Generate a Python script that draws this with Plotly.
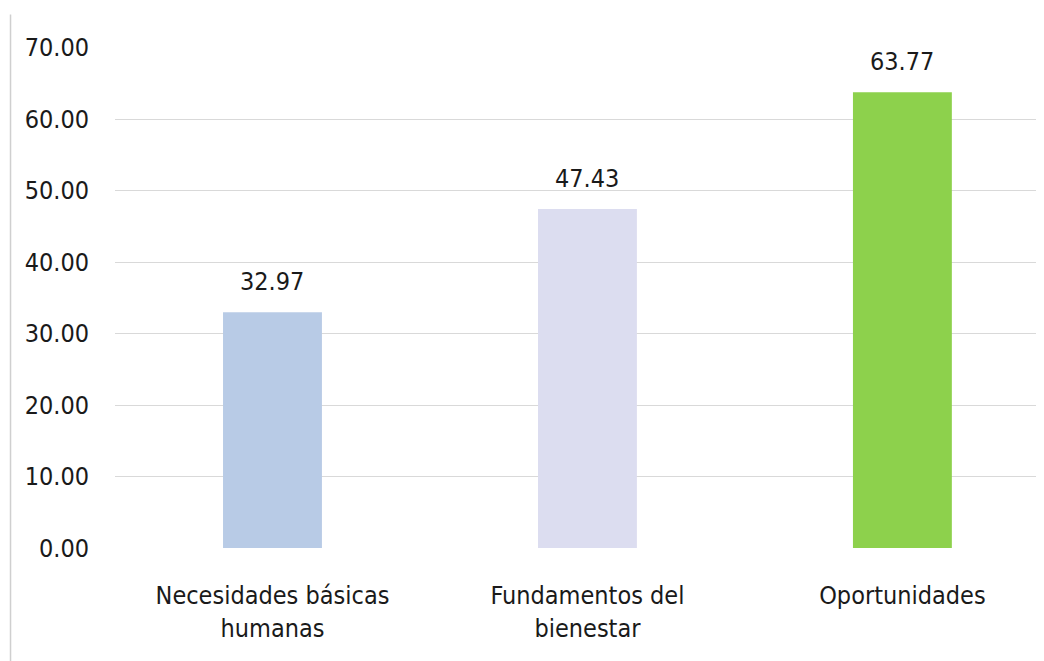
import plotly.graph_objects as go

categories = ["Necesidades básicas<br>humanas", "Fundamentos del<br>bienestar", "Oportunidades"]
values = [32.97, 47.43, 63.77]
value_labels = ["32.97", "47.43", "63.77"]
bar_colors = ["#B8CBE6", "#DCDDF0", "#8DD14C"]
y_ticks = [0, 10, 20, 30, 40, 50, 60, 70]
y_tick_labels = ["0.00", "10.00", "20.00", "30.00", "40.00", "50.00", "60.00", "70.00"]

FONT = "Liberation Sans Narrow, DejaVu Sans Condensed, Arial Narrow, sans-serif"

fig = go.Figure()
fig.add_trace(go.Bar(
    x=categories,
    y=values,
    width=0.314,
    marker=dict(color=bar_colors, line=dict(width=0)),
    hoverinfo="skip",
))

for c, v, t in zip(categories, values, value_labels):
    fig.add_annotation(x=c, y=v, text=t, showarrow=False, yanchor="bottom",
                       yshift=14, font=dict(family=FONT, size=25, color="#1a1a1a"))

fig.update_layout(
    width=1044, height=661,
    margin=dict(l=107, r=0, t=39, b=121, autoexpand=False),
    paper_bgcolor="white", plot_bgcolor="white",
    showlegend=False,
    font=dict(family=FONT, size=25, color="#1a1a1a"),
    xaxis=dict(range=[-0.5, 2.475], showgrid=False, zeroline=False, showline=False,
               ticks="", ticklabelstandoff=30, automargin=False,
               tickfont=dict(family=FONT, size=25, color="#1a1a1a")),
    yaxis=dict(range=[0, 70.1], tickvals=y_ticks, ticktext=y_tick_labels,
               showgrid=True, gridcolor="#D9D9D9", gridwidth=1, automargin=False,
               zeroline=False, showline=False, ticks="", ticklabelstandoff=25,
               tickfont=dict(family=FONT, size=25, color="#1a1a1a")),
    shapes=[dict(type="line", xref="paper", yref="paper",
                 x0=-0.1115, x1=-0.1115, y0=-0.3, y1=1.065,
                 line=dict(color="#CFCFCF", width=1.5))],
)

fig.write_html("out.html")
